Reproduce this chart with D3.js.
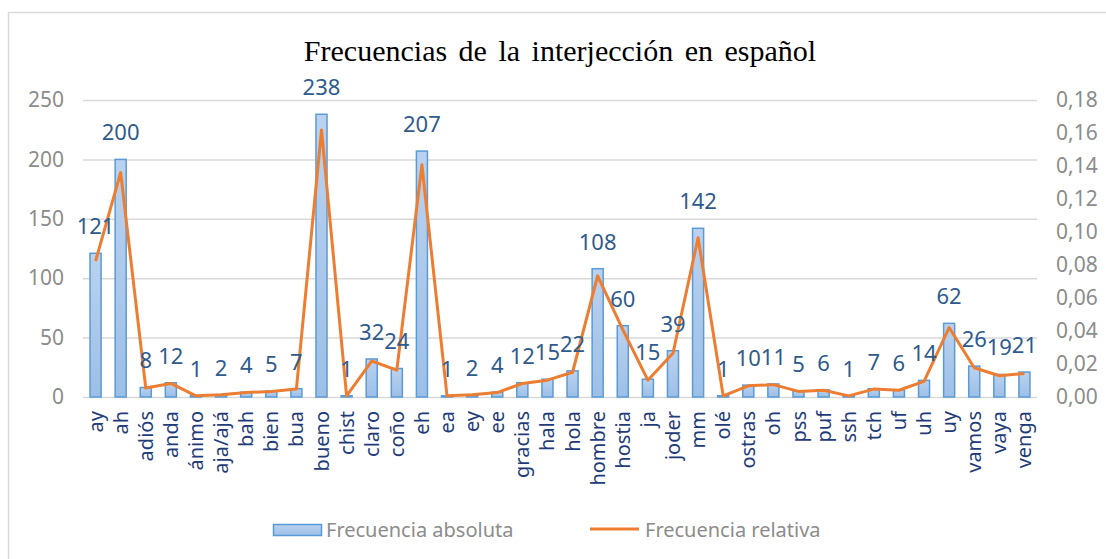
<!DOCTYPE html>
<html>
<head>
<meta charset="utf-8">
<script src="https://cdn.jsdelivr.net/npm/d3@7"></script>
<style>
  body { margin: 0; background: #fff; }
  svg text { font-family: "Noto Sans", sans-serif; }
</style>
</head>
<body>
<div id="chart"></div>
<script>
// interjections on the x axis
const categories = ["ay","ah","adiós","anda","ánimo","aja/ajá","bah","bien","bua","bueno","chist","claro","coño","eh","ea","ey","ee","gracias","hala","hola","hombre","hostia","ja","joder","mm","olé","ostras","oh","pss","puf","ssh","tch","uf","uh","uy","vamos","vaya","venga"];

// bars (left axis)
const absoluta = [121,200,8,12,1,2,4,5,7,238,1,32,24,207,1,2,4,12,15,22,108,60,15,39,142,1,10,11,5,6,1,7,6,14,62,26,19,21];

// line (right axis)
const relativa = [0.0823,0.1360,0.0054,0.0082,0.0007,0.0014,0.0027,0.0034,0.0048,0.1618,0.0007,0.0218,0.0163,0.1407,0.0007,0.0014,0.0027,0.0082,0.0102,0.0150,0.0734,0.0408,0.0102,0.0265,0.0965,0.0007,0.0068,0.0075,0.0034,0.0041,0.0007,0.0048,0.0041,0.0095,0.0421,0.0177,0.0129,0.0143];

const leftTicks = [0,50,100,150,200,250];
const rightTicks = [0,0.02,0.04,0.06,0.08,0.10,0.12,0.14,0.16,0.18];

const width = 1106, height = 559;
const margin = {top: 100, right: 69, bottom: 162, left: 83};

const svg = d3.select("#chart")
    .append("svg")
    .attr("width", width)
    .attr("height", height);

// chart frame
svg.append("rect")
    .attr("x", 8.5).attr("y", 12.5)
    .attr("width", 1110).attr("height", 560)
    .attr("fill", "#fff")
    .attr("stroke", "#d9d9d9")
    .attr("stroke-width", 1.5);

const defs = svg.append("defs");
const grad = defs.append("linearGradient")
    .attr("id", "barFill")
    .attr("x1", 0).attr("y1", 0).attr("x2", 0).attr("y2", 1);
grad.append("stop").attr("offset", "0%").attr("stop-color", "#bad2ef");
grad.append("stop").attr("offset", "100%").attr("stop-color", "#9dbfe7");

const x = d3.scaleBand()
    .domain(categories)
    .range([margin.left, width - margin.right])
    .paddingInner(0.56)
    .paddingOuter(0.28);

const y = d3.scaleLinear()
    .domain([0, 250])
    .range([height - margin.bottom, margin.top]);

const y2 = d3.scaleLinear()
    .domain([0, 0.18])
    .range([height - margin.bottom, margin.top]);

// gridlines
svg.append("g")
    .attr("transform", `translate(${margin.left},0)`)
    .call(d3.axisLeft(y).tickValues(leftTicks).tickSize(-(width - margin.left - margin.right)).tickFormat(""))
    .call(g => g.select(".domain").remove())
    .call(g => g.selectAll("line").attr("stroke", "#d9d9d9").attr("stroke-width", 1.5));

// left axis labels
svg.append("g")
    .attr("transform", `translate(${margin.left},0)`)
    .call(d3.axisLeft(y).tickValues(leftTicks).tickSize(0).tickPadding(19))
    .call(g => g.select(".domain").remove())
    .call(g => g.selectAll("text")
        .attr("fill", "#8c8c8c")
        .style("font-size", "21px")
        .style("font-family", "'Noto Sans', sans-serif"));

// right axis labels
svg.append("g")
    .attr("transform", `translate(${width - margin.right},0)`)
    .call(d3.axisRight(y2).tickValues(rightTicks).tickSize(0).tickPadding(19)
        .tickFormat(d => d3.format(".2f")(d).replace(".", ",")))
    .call(g => g.select(".domain").remove())
    .call(g => g.selectAll("text")
        .attr("fill", "#8c8c8c")
        .style("font-size", "21px")
        .style("font-family", "'Noto Sans', sans-serif"));

// bars
svg.append("g")
    .selectAll("rect")
    .data(absoluta)
    .enter()
    .append("rect")
    .attr("x", (d, i) => x(categories[i]))
    .attr("y", d => y(d))
    .attr("width", x.bandwidth())
    .attr("height", d => y(0) - y(d))
    .attr("fill", "url(#barFill)")
    .attr("stroke", "#5b9bd5")
    .attr("stroke-width", 1.5);

// relative frequency line
const line = d3.line()
    .x((d, i) => x(categories[i]) + x.bandwidth() / 2)
    .y(d => y2(d));

svg.append("path")
    .datum(relativa)
    .attr("d", line)
    .attr("fill", "none")
    .attr("stroke", "#ed7d31")
    .attr("stroke-width", 3)
    .attr("stroke-linejoin", "round");

// data labels
svg.append("g")
    .selectAll("text")
    .data(absoluta)
    .enter()
    .append("text")
    .attr("x", (d, i) => x(categories[i]) + x.bandwidth() / 2)
    .attr("y", d => y(d) - 19)
    .attr("text-anchor", "middle")
    .attr("fill", "#2e5b8c")
    .style("font-size", "22px")
    .text(d => d);

// category labels
svg.append("g")
    .selectAll("text")
    .data(categories)
    .enter()
    .append("text")
    .attr("transform", d => `translate(${x(d) + x.bandwidth() / 2 + 7},${height - margin.bottom + 14}) rotate(-90)`)
    .attr("text-anchor", "end")
    .attr("fill", "#1f3c78")
    .style("font-size", "20px")
    .text(d => d);

// title
svg.append("text")
    .attr("x", 560)
    .attr("y", 61)
    .attr("text-anchor", "middle")
    .attr("fill", "#000")
    .style("font-family", "'Liberation Serif', 'Times New Roman', serif")
    .style("font-size", "30px")
    .style("word-spacing", "4px")
    .text("Frecuencias de la interjección en español");

// legend
const legend = svg.append("g");
legend.append("rect")
    .attr("x", 273.5).attr("y", 524.5)
    .attr("width", 48).attr("height", 11)
    .attr("fill", "url(#barFill)")
    .attr("stroke", "#5b9bd5")
    .attr("stroke-width", 1.5);
legend.append("text")
    .attr("x", 326).attr("y", 537)
    .attr("fill", "#8c8c8c")
    .style("font-size", "20px")
    .text("Frecuencia absoluta");
legend.append("line")
    .attr("x1", 590).attr("x2", 639)
    .attr("y1", 529).attr("y2", 529)
    .attr("stroke", "#ed7d31")
    .attr("stroke-width", 3);
legend.append("text")
    .attr("x", 645).attr("y", 537)
    .attr("fill", "#8c8c8c")
    .style("font-size", "20px")
    .text("Frecuencia relativa");
</script>
</body>
</html>
